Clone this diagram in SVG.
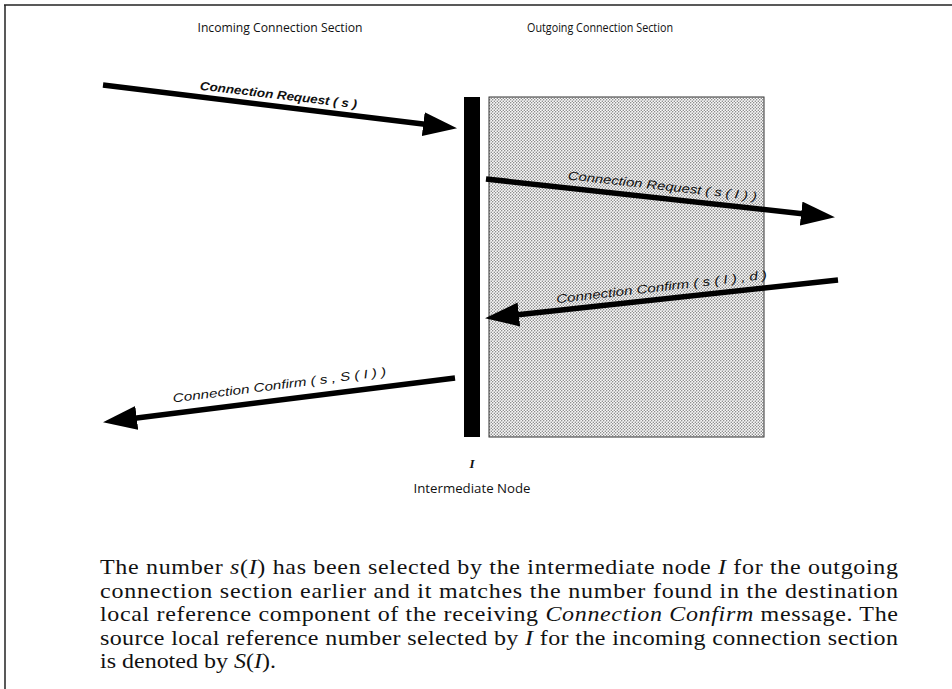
<svg xmlns="http://www.w3.org/2000/svg" width="952" height="689" viewBox="0 0 952 689">
<style>
.hdr{font-family:"Open Sans","Liberation Sans",sans-serif;font-size:12.5px;fill:#111;text-anchor:middle}
.lbl{font-family:"Liberation Sans",sans-serif;font-size:12px;font-style:italic;fill:#111;text-anchor:middle}
.para{font-family:"Liberation Serif",serif;font-size:20px;fill:#111}
.it{font-style:italic}
.arr{stroke:#000;stroke-width:5.5;fill:none;marker-end:url(#head)}
</style>
<defs>
<marker id="head" markerUnits="userSpaceOnUse" markerWidth="36" markerHeight="26" refX="8" refY="12" orient="auto">
<path d="M0,0 L34,12 L0,24 z" fill="#000"/>
</marker>
<pattern id="dots" width="3" height="3" patternUnits="userSpaceOnUse">
<rect width="3" height="3" fill="#fafafa"/>
<circle cx="0.75" cy="0.75" r="0.65" fill="#6a6a6a"/>
<circle cx="2.25" cy="2.25" r="0.65" fill="#6a6a6a"/>
</pattern>
</defs>
<rect width="952" height="689" fill="#fff"/>
<g id="frame" stroke="#222" stroke-width="1.5" fill="none">
<line x1="4" y1="5" x2="952" y2="5"/>
<line x1="5" y1="5" x2="5" y2="689"/>
</g>
<g id="headers">
<text class="hdr" x="280" y="32" textLength="165" lengthAdjust="spacingAndGlyphs">Incoming Connection Section</text>
<text class="hdr" x="600" y="32" textLength="146" lengthAdjust="spacingAndGlyphs">Outgoing Connection Section</text>
</g>
<g id="outgoing-section">
<rect x="489" y="97" width="275" height="340" fill="url(#dots)" stroke="#333" stroke-width="1"/>
</g>
<g id="intermediate-node">
<rect x="464" y="97" width="16" height="340" fill="#000"/>
<text x="472" y="468" font-family="Liberation Serif,serif" font-size="13" font-style="italic" font-weight="bold" text-anchor="middle" fill="#111">I</text>
<text class="hdr" x="472" y="493" textLength="117" lengthAdjust="spacingAndGlyphs">Intermediate Node</text>
</g>
<g id="connectors">
<line class="arr" x1="103" y1="85" x2="431.2" y2="125.1"/>
<line class="arr" x1="486" y1="179" x2="809.1" y2="214.4"/>
<line class="arr" x1="838" y1="280" x2="510.9" y2="315.4"/>
<line class="arr" x1="455" y1="378" x2="128.8" y2="419.0"/>
<text class="lbl" font-weight="bold" transform="translate(278,99) rotate(6.8)" textLength="158" lengthAdjust="spacingAndGlyphs">Connection Request ( s )</text>
<text class="lbl" transform="translate(662,190) rotate(6.4)" textLength="190" lengthAdjust="spacingAndGlyphs">Connection Request ( s ( I ) )</text>
<text class="lbl" transform="translate(662,291) rotate(-6.6)" textLength="212" lengthAdjust="spacingAndGlyphs">Connection Confirm ( s ( I ) , d )</text>
<text class="lbl" font-style="normal" transform="translate(280,389) rotate(-7.2)" textLength="215" lengthAdjust="spacingAndGlyphs">Connection Confirm ( s , S ( I ) )</text>
</g>
<g id="caption" transform="translate(100,0) scale(1.2,1)">
<text class="para" x="0" y="574" textLength="665" lengthAdjust="spacing">The number <tspan class="it">s</tspan>(<tspan class="it">I</tspan>) has been selected by the intermediate node <tspan class="it">I</tspan> for the outgoing</text>
<text class="para" x="0" y="598" textLength="665" lengthAdjust="spacing">connection section earlier and it matches the number found in the destination</text>
<text class="para" x="0" y="621" textLength="665" lengthAdjust="spacing">local reference component of the receiving <tspan class="it">Connection Confirm</tspan> message. The</text>
<text class="para" x="0" y="645" textLength="665" lengthAdjust="spacing">source local reference number selected by <tspan class="it">I</tspan> for the incoming connection section</text>
<text class="para" x="0" y="668">is denoted by <tspan class="it">S</tspan>(<tspan class="it">I</tspan>).</text>
</g>
</svg>
